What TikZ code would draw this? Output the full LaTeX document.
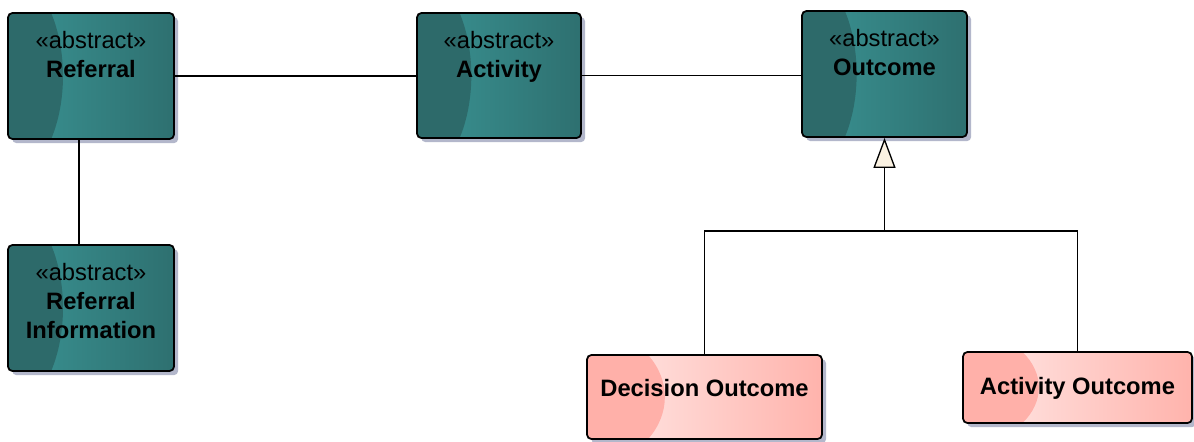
\documentclass[tikz,border=0pt]{standalone}
\usepackage{fontspec}
\setmainfont{Liberation Sans}
\usetikzlibrary{arrows.meta,shadows,calc,positioning}
\definecolor{tealshade}{HTML}{2D6A6A}
\definecolor{tealbright}{HTML}{3A9393}
\definecolor{tealedge}{HTML}{2E7070}
\definecolor{pinkshade}{HTML}{FFB0A9}
\definecolor{pinkbright}{HTML}{FFEAE8}
\definecolor{pinkedge}{HTML}{FFB3AC}
\definecolor{shadowblue}{HTML}{B3B7CB}
\definecolor{tipfill}{HTML}{FBF2E2}
\tikzset{
    classbox/.style = {draw = black, line width = 1pt, rounded corners = 2.5pt, inner sep = 0pt,
        drop shadow = {shadow xshift = 2.4pt, shadow yshift = -2.4pt, fill = shadowblue, opacity = 1}},
    leftwave/.style = {path picture = {
        \fill[#1, rounded corners = 0pt] let \p1 = (path picture bounding box.south west),
            \p2 = (path picture bounding box.north east) in
            (\x1,\y2) -- ({\x1+0.26*(\x2-\x1)},\y2)
            .. controls ({\x1+0.355*(\x2-\x1)},{\y2-0.3*(\y2-\y1)}) and ({\x1+0.355*(\x2-\x1)},{\y1+0.3*(\y2-\y1)}) .. ({\x1+0.26*(\x2-\x1)},\y1)
            -- (\x1,\y1) -- cycle;}},
    abstractbox/.style = {classbox, left color = tealbright, right color = tealedge, leftwave = tealshade},
    concretebox/.style = {classbox, left color = pinkbright, right color = pinkedge, leftwave = pinkshade},
    nametext/.style = {anchor = north, align = center, inner sep = 0pt, font = \fontsize{13.5}{16.5}\selectfont},
    assoc/.style = {draw = black, line width = 0.75pt}
}
\begin{document}
\begin{tikzpicture}[x = 0.02cm, y = -0.02cm]
        \useasboundingbox (0,0) rectangle (1194,441);
        % abstract classes
        \node[abstractbox, minimum width = 3.32cm, minimum height = 2.52cm] (referral) at (91,76) {};
        \node[abstractbox, minimum width = 3.28cm, minimum height = 2.50cm] (activity) at (499,75.5) {};
        \node[abstractbox, minimum width = 3.30cm, minimum height = 2.52cm] (outcome) at (884.5,74) {};
        \node[abstractbox, minimum width = 3.32cm, minimum height = 2.52cm] (refinfo) at (91,308) {};
        % concrete classes
        \node[concretebox, minimum width = 4.70cm, minimum height = 1.68cm] (decision) at (704.5,397) {};
        \node[concretebox, minimum width = 4.58cm, minimum height = 1.42cm] (actout) at (1077.5,387.5) {};
        % names
        \node[nametext] (referral-text) at ([yshift = -0.37cm]referral.north) {«abstract»\\\textbf{Referral}};
        \node[nametext] (activity-text) at ([yshift = -0.37cm]activity.north) {«abstract»\\\textbf{Activity}};
        \node[nametext] (outcome-text) at ([yshift = -0.37cm]outcome.north) {«abstract»\\\textbf{Outcome}};
        \node[nametext] (refinfo-text) at ([yshift = -0.37cm]refinfo.north) {«abstract»\\\textbf{Referral}\\\textbf{Information}};
        \node[nametext] (decision-text) at ([yshift = -0.50cm]decision.north) {\textbf{Decision Outcome}};
        \node[nametext] (actout-text) at ([yshift = -0.51cm]actout.north) {\textbf{Activity Outcome}};
        % connectors
        \draw[assoc] (referral.east) -- (referral.east -| activity.west);
        \draw[assoc] (activity.east) -- (activity.east -| outcome.west);
        \draw[assoc] ([xshift = -0.24cm]referral.south) -- ([xshift = -0.24cm]refinfo.north);
        \coordinate (branch) at (884.5,231);
        \draw[assoc, -{Triangle[fill = tipfill, length = 0.6cm, width = 0.44cm]}] (decision.north) |- (branch) -- (outcome.south);
        \draw[assoc] (actout.north) |- (branch);
    \end{tikzpicture}
\end{document}
